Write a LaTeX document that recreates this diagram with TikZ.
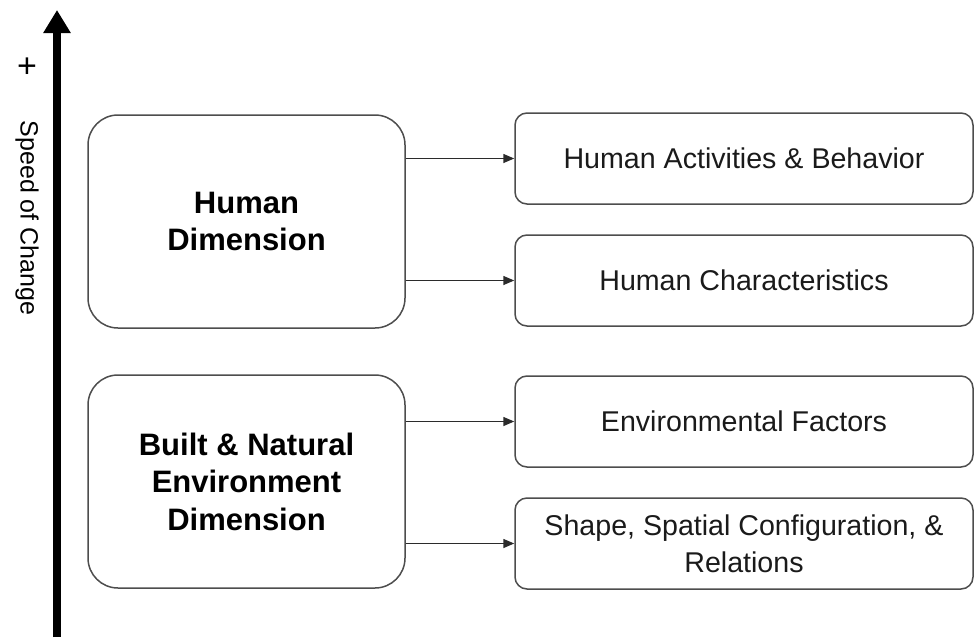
\documentclass[tikz,border=0pt]{standalone}
\usepackage{fontspec}
\setmainfont{Liberation Sans}
\usepackage{xcolor}
\definecolor{edge}{HTML}{4D4D4D}
\definecolor{link}{HTML}{2B2B2B}
\definecolor{ink}{HTML}{1A1A1A}
\usetikzlibrary{arrows.meta,positioning}

\begin{document}
\begin{tikzpicture}[x=1pt,y=-1pt,
  font=\fontsize{28.6}{37}\selectfont,text=ink,
  dimb/.style={draw=edge,line width=1.5pt,rounded corners=30pt,minimum width=317pt,
    minimum height=213pt,align=center,inner sep=0pt,
    font=\fontsize{31}{37.5}\selectfont\bfseries,text=black},
  itemb/.style={draw=edge,line width=1.5pt,rounded corners=12pt,minimum width=458pt,
    minimum height=91pt,align=center,inner sep=0pt},
  fwd/.style={-{Triangle[length=11pt,width=9pt]},link,line width=1.5pt},
  axisl/.style={-{Triangle[length=23pt,width=26pt]},black,line width=8pt},
  sidel/.style={font=\fontsize{25}{30}\selectfont,text=black},
  node distance=29.5pt]
\useasboundingbox (0,0) rectangle (974,637);
% speed of change axis
\coordinate (base) at (57,637);
\coordinate (tip) at (57,10);
\draw[axisl] (base) -- (tip);
\node[sidel,font=\fontsize{34}{34}\selectfont] (plus) at (27,68) {+};
\node[sidel,rotate=-90] (speed) at (27,218) {Speed of Change};
% dimensions
\node[dimb] (human) at (246.5,221.5) {Human\\Dimension};
\node[dimb] (built) at (246.5,481.5) {Built \& Natural\\Environment\\Dimension};
% factors
\node[itemb] (act) at (744,158.5) {Human Activities \& Behavior};
\node[itemb,below=of act] (char) {Human Characteristics};
\node[itemb,below=48.5pt of char] (envf) {Environmental Factors};
\node[itemb,below=of envf] (shape) {Shape, Spatial Configuration, \&\\Relations};
\draw[fwd] (human.east |- act.west) -- (act.west);
\draw[fwd] (human.east |- char.west) -- (char.west);
\draw[fwd] (built.east |- envf.west) -- (envf.west);
\draw[fwd] (built.east |- shape.west) -- (shape.west);
\end{tikzpicture}
\end{document}
